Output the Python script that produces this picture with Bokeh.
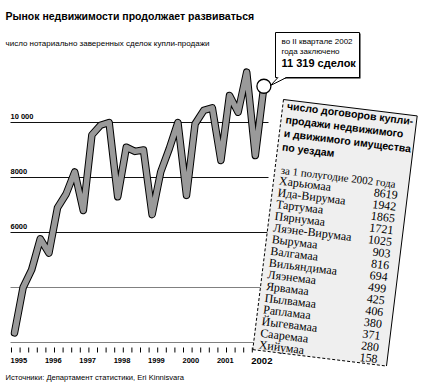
import math
from bokeh.plotting import figure
from bokeh.models import Range1d
from bokeh.core.properties import value
from bokeh.embed import file_html
from bokeh.resources import INLINE

# ---------------- data ----------------
quarters = [1995 + i / 4 for i in range(30)]
deals = [2350, 4000, 4650, 5770, 5250, 6900, 7400, 8200, 6800, 9550,
         9900, 10000, 7300, 9100, 8950, 9000, 6650, 8200, 9050, 10000,
         7350, 9950, 10440, 10530, 8620, 10980, 10375, 11830, 8800, 11319]
grid_values = [2000, 4000, 6000, 8000, 10000]
grid_labels = {6000: "6000", 8000: "8000", 10000: "10 000"}
years = [1995, 1996, 1997, 1998, 1999, 2000, 2001]
last_year = 2002
counties = ["Харьюмаа", "Ида-Вирумаа", "Тартумаа", "Пярнумаа", "Ляэне-Вирумаа",
            "Вырумаа", "Валгамаа", "Вильяндимаа", "Ляэнемаа", "Ярвамаа",
            "Пылвамаа", "Рапламаа", "Йыгевамаа", "Сааремаа", "Хийумаа"]
contracts = [8619, 1942, 1865, 1721, 1025, 903, 816, 694, 499, 425, 406, 380, 371, 280, 158]

title = "Рынок недвижимости продолжает развиваться"
subtitle = "число нотариально заверенных сделок купли-продажи"
source = "Источники: Департамент статистики, Eri Kinnisvara"
callout = ["во II квартале 2002", "года заключено", "11 319 сделок"]
table_head = ["число договоров купли-", "продажи недвижимого", "и движимого имущества", "по уездам"]
table_sub = "за 1 полугодие 2002 года"

SANS = "Liberation Sans"
SERIF = "Liberation Serif"

# ---------------- layout ----------------
W, H = 430, 386
X_PER_YEAR = 34.4
X_ORIGIN = 14               # page x of 1995 Q1
Y_PER_UNIT = 0.0275         # px per deal
Y_REF = 122                 # page y of 10 000

def xr(px):
    return 1995 + (px - X_ORIGIN) / X_PER_YEAR

def yr(py):
    return 10000 - (py - Y_REF) / Y_PER_UNIT

p = figure(width=W, height=H,
           x_range=Range1d(xr(0), xr(W)),
           y_range=Range1d(yr(H), yr(0)),
           x_axis_type=None, y_axis_type=None,
           output_backend="svg", toolbar_location=None, min_border=0)
p.grid.visible = False
p.outline_line_color = None
p.background_fill_color = "white"
p.border_fill_color = "white"
p.extra_x_ranges = {"px": Range1d(0, W)}
p.extra_y_ranges = {"px": Range1d(-H, 0)}
PXR = dict(x_range_name="px", y_range_name="px")

def txt(xs, ys, texts, size, font=SANS, bold=False, align="left", angle=0.0, **kw):
    p.text(x=xs, y=ys, text=texts, angle=angle,
           text_font=value(font), text_font_style="bold" if bold else "normal",
           text_font_size=size, text_align=align, text_baseline="middle",
           text_color="black", **kw)

# gridlines
gx0, gx1 = xr(10), xr(268)
p.segment(x0=[gx0] * len(grid_values), x1=[gx1] * len(grid_values),
          y0=grid_values, y1=grid_values,
          line_color=["#808080", "#808080", "#111111", "#111111", "#111111"],
          line_width=1)
lab_vals = [v for v in grid_values if v in grid_labels]
txt([xr(10)] * len(lab_vals), [v + 6.5 / Y_PER_UNIT for v in lab_vals],
    [grid_labels[v] for v in lab_vals], "7.5px", bold=True)

# data line
p.line(quarters, deals, line_color="black", line_width=7.5, line_join="round", line_cap="round")
p.line(quarters, deals, line_color="#9a9a9a", line_width=5.5, line_join="round", line_cap="round")
p.scatter([quarters[-1]], [deals[-1]], size=14, fill_color="white",
          line_color="black", line_width=1.3)

# x ticks & labels
tick_x = [1995 + k / 4 - 3 / X_PER_YEAR for k in range(29)]
p.segment(x0=tick_x, x1=tick_x, y0=[-347] * len(tick_x), y1=[-352] * len(tick_x),
          line_color="black", line_width=1, y_range_name="px")
txt([y - 4 / X_PER_YEAR for y in years], [-360] * len(years), [str(y) for y in years],
    "7.5px", bold=True, y_range_name="px")
txt([last_year - 4 / X_PER_YEAR], [-360], [str(last_year)], "9.5px", bold=True,
    y_range_name="px")

# title, subtitle, source
txt([5], [-15.5], [title], "10.5px", bold=True, **PXR)
txt([5], [-43], [subtitle], "8px", **PXR)
txt([5], [-377], [source], "7.6px", **PXR)

# callout box
p.quad(left=[276], right=[360], top=[-33], bottom=[-78], fill_color="black",
       line_color=None, **PXR)
p.quad(left=[275], right=[359], top=[-32], bottom=[-77], fill_color="white",
       line_color="black", line_width=1, **PXR)
p.patch(x=[277.5, 286, 270], y=[-76.5, -76.5, -85], fill_color="white",
        line_color=None, **PXR)
p.segment(x0=[277.5, 286], y0=[-77, -77], x1=[270, 270], y1=[-85, -85],
          line_color="black", line_width=1, **PXR)
txt([281, 281], [-41, -51], callout[:2], "8px", **PXR)
txt([281], [-62.5], [callout[2]], "11px", bold=True, **PXR)

# rotated table
th = math.radians(7)
c, s = math.cos(th), math.sin(th)
TLx, TLy = 283, 99
BW, BH = 134.7, 252

def bp(u, v):
    return TLx + u * c - v * s, -(TLy + u * s + v * c)

cx, cy = bp(BW / 2, BH / 2)
p.rect(x=[cx], y=[cy], width=[BW], height=[BH], angle=-th,
       fill_color="#efefef", line_color=None, **PXR)
TL, TR, BL, BR = bp(0, 0), bp(BW, 0), bp(0, BH), bp(BW, BH)
p.segment(x0=[TL[0], TR[0]], y0=[TL[1], TR[1]], x1=[TR[0], BR[0]], y1=[TR[1], BR[1]],
          line_color="black", line_width=1, **PXR)
p.segment(x0=[TL[0], BL[0]], y0=[TL[1], BL[1]], x1=[BL[0], BR[0]], y1=[BL[1], BR[1]],
          line_color="black", line_width=1, line_dash="3 2", **PXR)

hp = [bp(4.5, 5.5 + 13.8 * i) for i in range(len(table_head))]
txt([q[0] for q in hp], [q[1] for q in hp], table_head, "10.5px", bold=True, angle=-th, **PXR)
sp = bp(6, 70)
txt([sp[0]], [sp[1]], [table_sub], "11px", font=SERIF, angle=-th, **PXR)
rows_l = [bp(5.5, 81 + 11.8 * i) for i in range(len(counties))]
rows_r = [bp(125, 81 + 11.8 * i) for i in range(len(counties))]
txt([q[0] for q in rows_l], [q[1] for q in rows_l], counties, "12px", font=SERIF,
    angle=-th, **PXR)
txt([q[0] for q in rows_r], [q[1] for q in rows_r], [str(v) for v in contracts], "12px",
    font=SERIF, align="right", angle=-th, **PXR)

open("out.html", "w").write(file_html(p, INLINE))
